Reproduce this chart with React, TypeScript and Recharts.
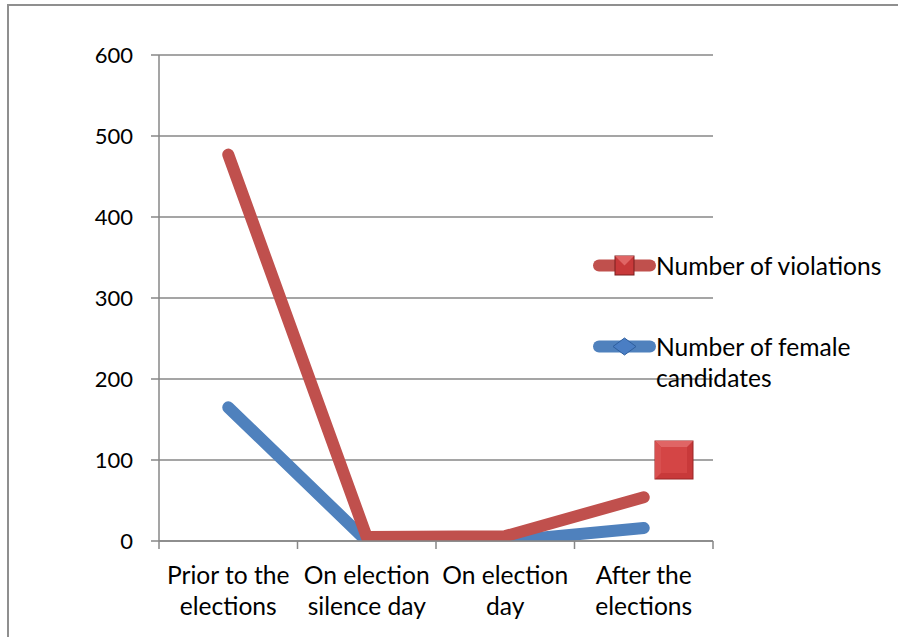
import { CartesianGrid, Line, LineChart, XAxis, YAxis } from "recharts";

const categories = [
  ["Prior to the", "elections"],
  ["On election", "silence day"],
  ["On election", "day"],
  ["After the", "elections"],
];
const violations = [477, 5, 6, 54];
const femaleCandidates = [165, 0, 0, 16];
const yTicks = [0, 100, 200, 300, 400, 500, 600];

const FONT = "Lato, 'Open Sans', sans-serif";
const TEXT_SIZE = 24.6;
const AXIS_GREY = "#878787";
const RED = "#C0504D";
const BLUE = "#4F81BD";

const data = categories.map((c, i) => ({
  name: c.join(" "),
  violations: violations[i],
  female: femaleCandidates[i],
}));

const CategoryTick = (props: any) => {
  const { x, y, payload, index } = props;
  const half = payload?.offset ?? 69.25;
  const lines = categories[index] ?? [String(payload.value)];
  return (
    <g>
      <line x1={x - half} x2={x - half} y1={y} y2={y + 8} stroke={AXIS_GREY} strokeWidth={1.5} />
      {index === categories.length - 1 && (
        <line x1={x + half} x2={x + half} y1={y} y2={y + 8} stroke={AXIS_GREY} strokeWidth={1.5} />
      )}
      <text x={x} y={y + 35} textAnchor="middle" fontSize={TEXT_SIZE} fontFamily={FONT} fill="#000">
        {lines.map((l, i) => (
          <tspan key={i} x={x} dy={i === 0 ? 8 : 31}>
            {l}
          </tspan>
        ))}
      </text>
    </g>
  );
};

// stray big bevelled marker that sits beside the plot in the original picture
const BigSquare = () => {
  const s = 19;
  const c = 20;
  return (
    <svg width={40} height={40} style={{ position: "absolute", left: 654, top: 440 }}>
      <rect x={c - s} y={c - s} width={s * 2} height={s * 2} fill="#C8393A" stroke="#9A2626" strokeWidth={1} />
      <polygon
        points={`${c - s},${c - s} ${c + s},${c - s} ${c + s - 6},${c - s + 6} ${c - s + 6},${c - s + 6}`}
        fill="#E06565"
      />
      <polygon
        points={`${c - s},${c - s} ${c - s + 6},${c - s + 6} ${c - s + 6},${c + s - 6} ${c - s},${c + s}`}
        fill="#D85050"
      />
      <rect x={c - s + 6} y={c - s + 6} width={s * 2 - 12} height={s * 2 - 12} fill="#D44545" />
    </svg>
  );
};

const LegendItem = ({ color, marker, label, top }: any) => (
  <div style={{ position: "absolute", left: 593, top, display: "flex", alignItems: "flex-start" }}>
    <svg width={63} height={31} style={{ flex: "none" }}>
      <line x1={6} x2={57} y1={15.5} y2={15.5} stroke={color} strokeWidth={12} strokeLinecap="round" />
      {marker === "square" ? (
        <g>
          <rect x={22} y={6} width={19} height={19} fill="#C8393A" stroke="#7A1E1E" strokeWidth={1} />
          <polygon points="22,6 41,6 31.5,15.5" fill="#E06565" />
        </g>
      ) : (
        <polygon points="20,15.5 31.5,7 43,15.5 31.5,24" fill="#4A7EC4" stroke="#2F5F9E" strokeWidth={1} />
      )}
    </svg>
    <div
      style={{
        fontFamily: FONT,
        fontSize: TEXT_SIZE,
        lineHeight: "31px",
        color: "#000",
        width: 240,
        whiteSpace: "nowrap",
      }}
    >
      {label}
    </div>
  </div>
);

export default function App() {
  return (
    <div
      style={{
        position: "absolute",
        left: 0,
        top: 0,
        width: 898,
        height: 637,
        overflow: "hidden",
        background: "#fff",
      }}
    >
      <div
        style={{
          position: "absolute",
          left: 7,
          top: 4,
          width: 1000,
          height: 1000,
          borderTop: "2px solid #8f8f8f",
          borderLeft: "2px solid #8f8f8f",
        }}
      />
      <LineChart width={898} height={637} data={data} margin={{ top: 55, right: 185, bottom: 0, left: 0 }}>
        <CartesianGrid vertical={false} stroke={AXIS_GREY} strokeWidth={1.5} />
        <XAxis
          dataKey="name"
          scale="band"
          height={96}
          axisLine={{ stroke: AXIS_GREY, strokeWidth: 1.5 }}
          tickLine={false}
          tickSize={0}
          tickMargin={0}
          interval={0}
          tick={<CategoryTick />}
        />
        <YAxis
          width={159}
          domain={[0, 600]}
          ticks={yTicks}
          allowDataOverflow
          axisLine={{ stroke: AXIS_GREY, strokeWidth: 1.5 }}
          tickLine={{ stroke: AXIS_GREY, strokeWidth: 1.5 }}
          tickSize={8}
          tickMargin={18}
          tick={{ fontSize: 22, fontFamily: FONT, fill: "#000" }}
        />
        <Line
          type="linear"
          dataKey="female"
          stroke={BLUE}
          strokeWidth={12}
          strokeLinecap="round"
          strokeLinejoin="round"
          dot={false}
          activeDot={false}
          isAnimationActive={false}
        />
        <Line
          type="linear"
          dataKey="violations"
          stroke={RED}
          strokeWidth={12}
          strokeLinecap="round"
          strokeLinejoin="round"
          dot={false}
          activeDot={false}
          isAnimationActive={false}
        />
      </LineChart>
      <BigSquare />
      <LegendItem color={RED} marker="square" label="Number of violations" top={250} />
      <LegendItem color={BLUE} marker="diamond" label={<>Number of female<br />candidates</>} top={331} />
    </div>
  );
}
